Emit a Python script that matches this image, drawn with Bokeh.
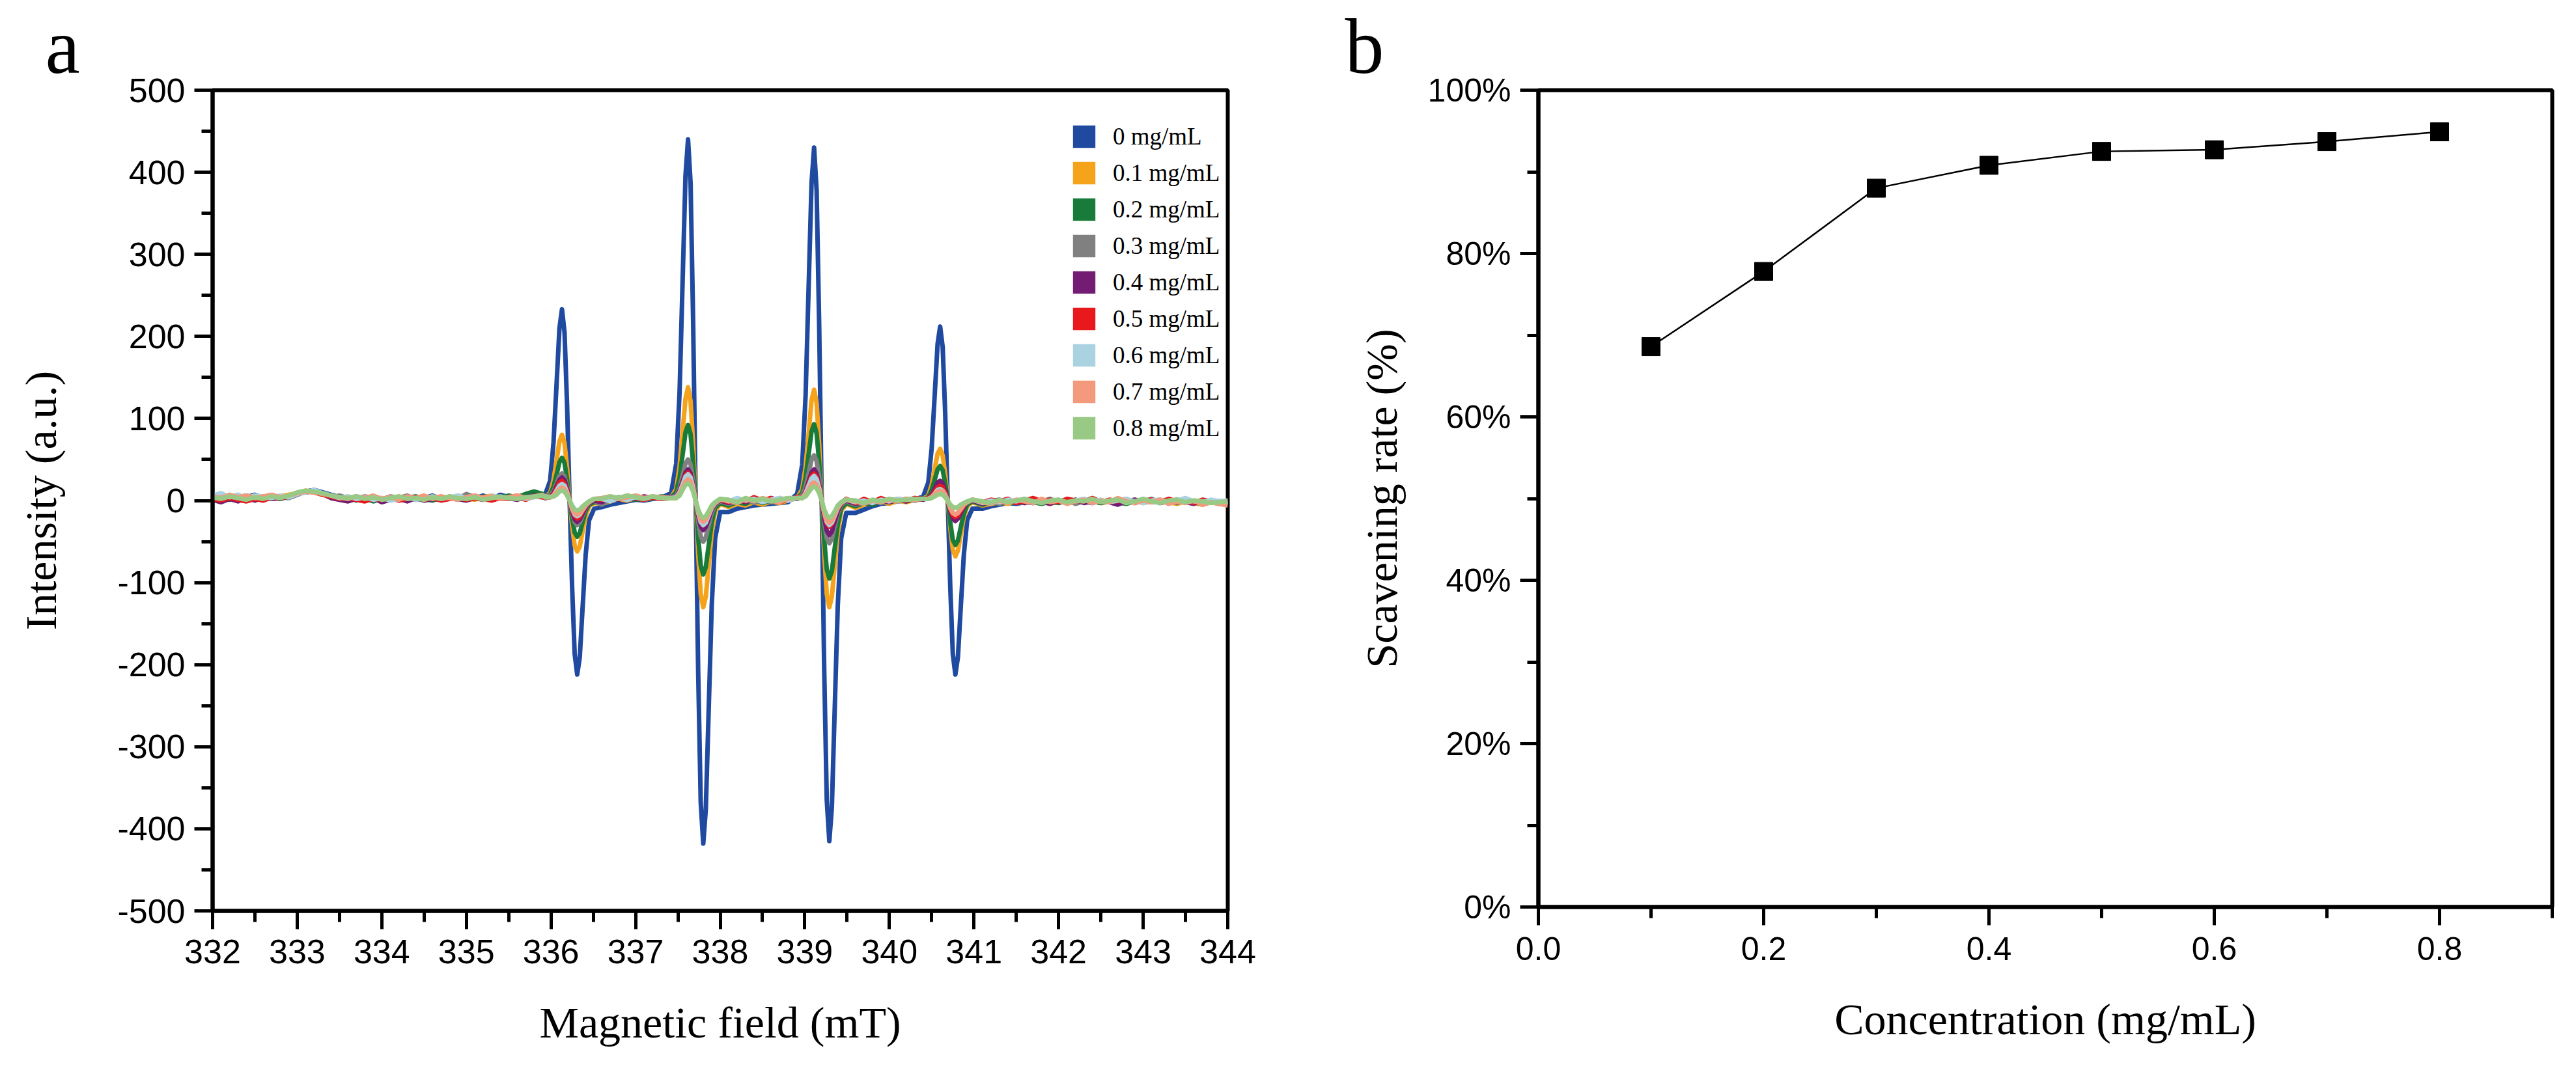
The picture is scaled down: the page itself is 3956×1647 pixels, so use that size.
from bokeh.plotting import figure
from bokeh.models import Range1d, FixedTicker, NumeralTickFormatter, Legend, LegendItem
from bokeh.layouts import row
from bokeh.embed import file_html
from bokeh.resources import INLINE

# ---- panel a: EPR spectra ----
field = [
    332.0, 332.1, 332.2, 332.3, 332.4, 332.5, 332.6, 332.7, 332.8, 332.9,
    333.0, 333.1, 333.2, 333.3, 333.4, 333.5, 333.6, 333.7, 333.8, 333.9,
    334.0, 334.1, 334.2, 334.3, 334.4, 334.5, 334.6, 334.7, 334.8, 334.9,
    335.0, 335.1, 335.2, 335.3, 335.4, 335.5, 335.6, 335.7, 335.8, 335.9,
    335.93, 335.99, 336.03, 336.065, 336.10, 336.13, 336.16, 336.19, 336.22,
    336.25, 336.28, 336.31, 336.34, 336.375, 336.41, 336.45, 336.51,
    336.6, 336.7, 336.8, 336.9, 337.0, 337.1, 337.2, 337.3,
    337.42, 337.48, 337.52, 337.555, 337.59, 337.62, 337.65, 337.68, 337.71,
    337.74, 337.77, 337.80, 337.83, 337.865, 337.90, 337.94, 338.00,
    338.1, 338.2, 338.3, 338.4, 338.5, 338.6, 338.7, 338.8,
    338.91, 338.97, 339.01, 339.045, 339.08, 339.11, 339.14, 339.17, 339.20,
    339.23, 339.26, 339.29, 339.32, 339.355, 339.39, 339.43, 339.49,
    339.6, 339.7, 339.8, 339.9, 340.0, 340.1, 340.2, 340.3,
    340.40, 340.46, 340.50, 340.535, 340.57, 340.60, 340.63, 340.66, 340.69,
    340.72, 340.75, 340.78, 340.81, 340.845, 340.88, 340.92, 340.98,
    341.1, 341.2, 341.3, 341.4, 341.5, 341.6, 341.7, 341.8, 341.9, 342.0,
    342.1, 342.2, 342.3, 342.4, 342.5, 342.6, 342.7, 342.8, 342.9, 343.0,
    343.1, 343.2, 343.3, 343.4, 343.5, 343.6, 343.7, 343.8, 343.9, 344.0,
]

y_0 = [
    5, 3, 6, 2, 4, 7, 3, 5, 2, 6, 8, 11, 13, 10, 7, 4, 2, 5, 1, 3,
    0, 4, 2, 5, 1, 3, 6, 2, 4, 1, 5, 3, 6, 2, 7, 4, 3, 6, 9, 7,
    7, 24, 71, 140, 210, 233, 205, 117, 1, -106, -187, -212, -191, -128, -66, -24, -10,
    -8, -5, -3, -1, 1, 0, 2, 3,
    9, 45, 132, 264, 396, 440, 387, 220, 2, -209, -368, -418, -376, -252, -128, -46, -14,
    -14, -10, -8, -6, -5, -4, -3, -2,
    8, 44, 129, 258, 387, 430, 378, 215, 1, -208, -365, -415, -374, -250, -128, -46, -15,
    -15, -11, -7, -4, -3, -1, 0, 1,
    5, 22, 64, 127, 191, 212, 187, 106, 0, -106, -187, -212, -191, -128, -66, -24, -10,
    -10, -7, -5, -3, -4, -2, -3, -1, -3, -2, 0, -2, -1, -3, 0,
    -2, -1, -3, -1, 0, -2, -1, 1, -2, 0, -1, -3, -2, -1, -2,
]
y_01 = [
    4, 6, 2, 5, 3, 6, 4, 2, 5, 7, 9, 12, 11, 9, 5, 3, 5, 1, 4, 2,
    3, 1, 5, 2, 4, 0, 3, 5, 2, 6, 3, 1, 4, 6, 3, 5, 2, 4, 7, 5,
    5, 9, 25, 48, 72, 80, 70, 40, 0, -31, -55, -62, -56, -37, -19, -7, -3,
    -4, -1, 2, 0, 3, 1, 4, 2,
    4, 14, 41, 83, 124, 138, 121, 69, 0, -65, -114, -130, -117, -78, -39, -13, -4,
    -8, -4, -6, -2, -5, -1, -3, 0,
    3, 14, 41, 81, 122, 135, 119, 68, 0, -65, -114, -130, -117, -78, -39, -13, -4,
    -9, -5, -3, -1, -4, 0, -2, 1,
    2, 6, 19, 38, 57, 63, 55, 32, 0, -34, -60, -68, -61, -41, -20, -7, -2,
    -6, -4, -2, -4, -1, -3, 0, -2, -4, -1, -3, 1, -2, 0, -3,
    -1, 2, -2, 0, -3, -1, 1, -2, -4, -1, -3, -5, -2, -4, -3,
]
y_02 = [
    3, 5, 1, 4, 6, 3, 5, 4, 2, 5, 8, 10, 12, 9, 6, 2, 4, 0, 3, -1,
    2, 4, 1, 3, 5, 2, 0, 4, 3, 5, 2, 4, 1, 5, 3, 6, 4, 8, 11, 8,
    5, 7, 17, 31, 47, 52, 46, 26, 0, -22, -39, -44, -40, -26, -13, -5, -2,
    -3, 0, 2, 4, 1, 3, 2, 5,
    4, 10, 28, 55, 83, 92, 81, 46, 0, -45, -79, -90, -81, -54, -27, -9, -3,
    -6, -2, -4, 1, -3, 0, -2, 2,
    3, 9, 28, 56, 84, 93, 82, 47, 0, -48, -84, -95, -86, -57, -29, -10, -3,
    -7, -3, -5, -1, -2, 1, -1, 2,
    2, 4, 13, 25, 38, 42, 37, 21, 0, -27, -48, -54, -49, -32, -16, -5, -1,
    -5, -2, -4, -1, -3, 0, -2, -4, -1, -3, 0, -2, 1, -1, -3,
    0, -2, -4, -1, 1, -2, 0, -3, -1, 2, -2, -4, -1, -3, -2,
]
y_03 = [
    2, 6, 3, 7, 2, 5, 3, 6, 4, 3, 7, 11, 12, 8, 4, 6, 3, 2, 5, 3,
    1, 5, 3, 6, 2, 4, 3, 1, 5, 2, 8, 4, 2, 5, 3, 4, 6, 3, 5, 6,
    5, 6, 11, 20, 30, 33, 29, 17, 0, -15, -26, -30, -27, -18, -9, -3, 0,
    -5, 1, 4, 2, 5, 1, 3, 4,
    4, 6, 15, 30, 45, 50, 44, 25, 0, -25, -44, -50, -45, -30, -15, -5, -1,
    -4, -1, 2, -3, 1, -2, 3, 0,
    3, 6, 17, 33, 50, 55, 48, 28, 0, -26, -46, -52, -47, -31, -16, -5, -1,
    -5, -2, 0, -3, 1, -1, 2, 0,
    2, 3, 7, 13, 20, 22, 19, 11, 0, -12, -21, -24, -22, -14, -7, -2, 0,
    -3, -1, -4, 0, -2, 1, -3, -1, 2, -2, 0, -4, -1, 3, -2,
    0, -1, -3, 1, -1, 2, -2, 0, -3, 1, -1, -2, 0, -4, -1,
]
y_04 = [
    1, -2, 2, -1, 3, 0, 4, 2, 3, 5, 9, 10, 11, 8, 3, 1, -1, 2, 0, 3,
    -2, 1, 2, -1, 3, 0, 2, 1, 4, 2, 0, 3, 1, 4, 2, 3, 1, 4, 6, 5,
    3, 4, 9, 17, 25, 28, 25, 14, 0, -13, -23, -26, -23, -16, -8, -3, 0,
    -2, 3, 1, 4, 2, 5, 3, 4,
    4, 5, 12, 23, 34, 38, 33, 19, 0, -18, -32, -36, -32, -22, -11, -4, 0,
    -3, 1, -2, 2, -1, 3, 0, 2,
    2, 4, 11, 23, 34, 38, 33, 19, 0, -21, -37, -42, -38, -25, -13, -4, 0,
    -4, -1, -3, 0, -2, 1, -1, 3,
    1, 3, 7, 14, 22, 24, 21, 12, 0, -12, -22, -25, -22, -15, -8, -2, 0,
    -4, -1, 1, -2, 0, -3, 1, -1, -4, 0, -2, 1, -3, -1, 0,
    -2, -5, -1, 1, -2, 0, -3, -1, 1, -2, -4, 0, -2, -1, -3,
]
y_05 = [
    2, 0, 3, 1, -1, 2, 0, 4, 3, 5, 8, 11, 10, 7, 5, 2, 3, 1, -1, 2,
    1, 3, 0, 2, 4, 1, 3, 0, 2, 4, 1, 3, 2, 0, 3, 2, 4, 1, 5, 4,
    4, 4, 8, 14, 22, 24, 21, 12, 0, -11, -19, -22, -20, -13, -7, -2, 2,
    1, 4, 2, 6, 3, 1, 4, 2,
    3, 4, 10, 20, 31, 34, 30, 17, 0, -15, -26, -30, -27, -18, -9, -3, 1,
    -2, 2, -1, 4, 0, 3, -2, 1,
    4, 4, 10, 20, 30, 33, 29, 17, 0, -16, -28, -32, -29, -19, -10, -3, 2,
    -3, 2, -2, 3, -1, 2, 0, 3,
    2, 3, 5, 11, 16, 18, 16, 9, 0, -10, -18, -20, -18, -12, -6, -2, 1,
    -2, 1, -1, 2, -3, 0, 3, -1, 1, -2, 2, 0, -1, 3, -2,
    1, -1, 2, -3, 0, 1, -2, 2, -1, 0, -3, 1, -1, -2, 0,
]
y_06 = [
    6, 9, 4, 7, 3, 6, 5, 3, 6, 4, 8, 10, 13, 9, 6, 3, 5, 2, 4, 1,
    3, 0, 2, 4, 1, 3, 5, 2, 4, 6, 3, 5, 2, 6, 4, 3, 5, 2, 4, 6,
    5, 4, 6, 12, 18, 20, 18, 10, 0, -10, -17, -19, -17, -11, -6, -2, 2,
    2, -1, 3, 1, 4, 2, 5, 3,
    3, 4, 10, 19, 29, 32, 28, 16, 0, -15, -26, -30, -27, -18, -9, -3, 2,
    -1, 3, 0, 2, -2, 1, 3, 0,
    3, 3, 9, 18, 27, 30, 26, 15, 0, -15, -26, -30, -27, -18, -9, -3, 1,
    -2, 0, -3, 1, -1, 2, 1, 2,
    2, 2, 4, 8, 13, 14, 12, 7, 0, -9, -15, -17, -15, -10, -5, -2, 1,
    -3, 0, -2, 1, -1, 2, -2, 0, -1, 1, -3, 0, 2, -1, 1,
    -2, 0, 2, -1, -3, 0, 1, -2, 0, 3, -1, -2, 1, -1, 0,
]
y_07 = [
    5, 3, 7, 4, 6, 3, 5, 7, 4, 6, 9, 11, 10, 8, 6, 4, 2, 5, 3, 6,
    2, 4, 1, 5, 3, 6, 2, 5, 3, 1, 4, 6, 3, 5, 2, 4, 6, 3, 5, 7,
    4, 4, 5, 10, 14, 16, 14, 8, 0, -9, -15, -17, -15, -10, -5, -2, 2,
    3, 5, 2, 4, 6, 3, 5, 4,
    3, 3, 8, 16, 23, 26, 23, 13, 0, -13, -23, -26, -23, -16, -8, -3, 1,
    0, -3, 2, -1, 3, 0, -2, 2,
    3, 3, 7, 13, 20, 22, 19, 11, 0, -14, -24, -27, -24, -16, -8, -3, 1,
    -1, -4, 0, -2, 1, -1, 2, 1,
    2, 2, 4, 7, 11, 12, 11, 6, 0, -9, -15, -17, -15, -10, -5, -2, 1,
    -2, -4, 0, -3, 1, -1, -3, 2, -2, 0, -4, -1, 1, -3, 0,
    -2, 3, -1, -3, 0, -2, 1, -4, -1, -3, 0, -5, -2, -4, -6,
]
y_08 = [
    4, 2, 5, 3, 1, 4, 2, 5, 3, 6, 10, 12, 11, 9, 6, 4, 3, 5, 2, 4,
    1, 3, 5, 2, 3, 1, 4, 2, 5, 3, 2, 4, 1, 3, 5, 3, 2, 4, 5, 6,
    4, 4, 5, 7, 11, 12, 11, 6, 0, -6, -11, -12, -11, -7, -4, -1, 2,
    2, 5, 3, 6, 4, 2, 5, 3,
    3, 3, 6, 13, 19, 21, 18, 11, 0, -11, -18, -21, -19, -13, -6, -2, 2,
    1, -2, 3, 0, 2, -1, 1, 3,
    3, 3, 5, 10, 15, 17, 15, 9, 0, -11, -18, -21, -19, -13, -6, -2, 1,
    0, -3, 1, -1, 2, 0, 1, 2,
    2, 2, 3, 5, 7, 8, 7, 4, 0, -5, -8, -9, -8, -5, -3, -1, 1,
    -1, -3, 1, -2, 0, 2, -1, -3, 0, 1, -2, 0, -1, 2, -2,
    0, 1, -3, -1, 2, -1, -3, 0, 1, -2, 0, -1, -3, -2, -1,
]

spectra = [y_0, y_01, y_02, y_03, y_04, y_05, y_06, y_07, y_08]
labels = ["0 mg/mL", "0.1 mg/mL", "0.2 mg/mL", "0.3 mg/mL", "0.4 mg/mL",
          "0.5 mg/mL", "0.6 mg/mL", "0.7 mg/mL", "0.8 mg/mL"]
colors = ["#1f4aa0", "#f5a31a", "#187b3a", "#808080", "#721c73",
          "#e8181d", "#aad2e1", "#f29a7b", "#98ca86"]

# ---- panel b: scavenging rate ----
conc = [0.1, 0.2, 0.3, 0.4, 0.5, 0.6, 0.7, 0.8]
rate = [0.686, 0.778, 0.880, 0.908, 0.925, 0.927, 0.937, 0.949]

for s in spectra:
    assert len(s) == len(field), len(s)

SERIF = "Liberation Serif"
SANS = "Liberation Sans"


def style(p, tick_size):
    for ax in (p.xaxis[0], p.yaxis[0]):
        ax.axis_line_width = 6
        ax.axis_line_color = "black"
        ax.major_tick_line_width = 5
        ax.minor_tick_line_width = 5
        ax.major_tick_out = 28
        ax.major_tick_in = 0
        ax.minor_tick_out = 17
        ax.minor_tick_in = 0
        ax.major_label_text_font = SANS
        ax.major_label_text_font_size = tick_size
        ax.major_label_text_color = "black"
        ax.axis_label_text_font = SERIF
        ax.axis_label_text_font_size = "68px"
        ax.axis_label_text_font_style = "normal"
        ax.axis_label_text_color = "black"
    p.outline_line_color = "black"
    p.outline_line_width = 6
    p.outline_line_alpha = 1
    p.grid.visible = False
    p.background_fill_color = "white"
    p.border_fill_color = "white"


def panel_letter(p, letter, offset):
    p.title.text = letter
    p.title.text_font = SERIF
    p.title.text_font_size = "120px"
    p.title.text_font_style = "normal"
    p.title.text_color = "black"
    p.title.align = "left"
    p.title.offset = offset
    p.title.standoff = 2


# panel a
pa = figure(frame_width=1559, frame_height=1261,
            x_range=Range1d(332, 344), y_range=Range1d(-500, 500),
            min_border_left=326, min_border_right=107, min_border_top=137, min_border_bottom=233,
            output_backend="svg", toolbar_location=None,
            x_axis_label="Magnetic field (mT)", y_axis_label="Intensity (a.u.)")
style(pa, "52px")
panel_letter(pa, "a", -257)
yticks_a = list(range(-500, 501, 100))
pa.xaxis.ticker = FixedTicker(ticks=list(range(332, 345)),
                              minor_ticks=[332.5 + i for i in range(12)])
pa.yaxis.ticker = FixedTicker(ticks=yticks_a, minor_ticks=list(range(-450, 451, 100)))
pa.yaxis.major_label_overrides = {t: str(t) for t in yticks_a}
pa.xaxis.major_label_standoff = 16
pa.yaxis.major_label_standoff = 14
pa.xaxis.axis_label_standoff = 50
pa.yaxis.axis_label_standoff = 76

for ys, col in zip(spectra, colors):
    pa.line(field, ys, line_color=col, line_width=7, line_join="round")

# legend swatches: one NaN row each so only the legend square is drawn
nan = float("nan")
items = []
for lab, col in zip(labels, colors):
    r = pa.quad(left=[nan], right=[nan], top=[nan], bottom=[nan], fill_color=col, line_color=None)
    items.append(LegendItem(label=lab, renderers=[r]))
legend = Legend(items=items, location=(1317, 720), padding=0, spacing=13, margin=0,
                glyph_width=43, glyph_height=43, label_height=43, label_standoff=23,
                label_text_font=SERIF, label_text_font_size="37px", label_text_color="black",
                border_line_alpha=0, background_fill_alpha=0)
pa.add_layout(legend)

# panel b
pb = figure(frame_width=1557, frame_height=1255,
            x_range=Range1d(0, 0.9), y_range=Range1d(0, 1.0),
            min_border_left=370, min_border_right=21, min_border_top=138, min_border_bottom=238,
            output_backend="svg", toolbar_location=None,
            x_axis_label="Concentration (mg/mL)", y_axis_label="Scavening rate (%)")
style(pb, "50px")
panel_letter(pb, "b", -297)
pb.xaxis.ticker = FixedTicker(ticks=[0, 0.2, 0.4, 0.6, 0.8], minor_ticks=[0.1, 0.3, 0.5, 0.7, 0.9])
pb.yaxis.ticker = FixedTicker(ticks=[0, 0.2, 0.4, 0.6, 0.8, 1.0], minor_ticks=[0.1, 0.3, 0.5, 0.7, 0.9])
pb.xaxis.formatter = NumeralTickFormatter(format="0.0")
pb.yaxis.formatter = NumeralTickFormatter(format="0%")
pb.xaxis.major_label_standoff = 18
pb.yaxis.major_label_standoff = 14
pb.xaxis.axis_label_standoff = 50
pb.yaxis.axis_label_standoff = 30

pb.line(conc, rate, line_color="black", line_width=2.5)
pb.scatter(conc, rate, marker="square", size=28, fill_color="black", line_color="black")

layout = row(pa, pb)
open("out.html", "w").write(file_html(layout, INLINE))
